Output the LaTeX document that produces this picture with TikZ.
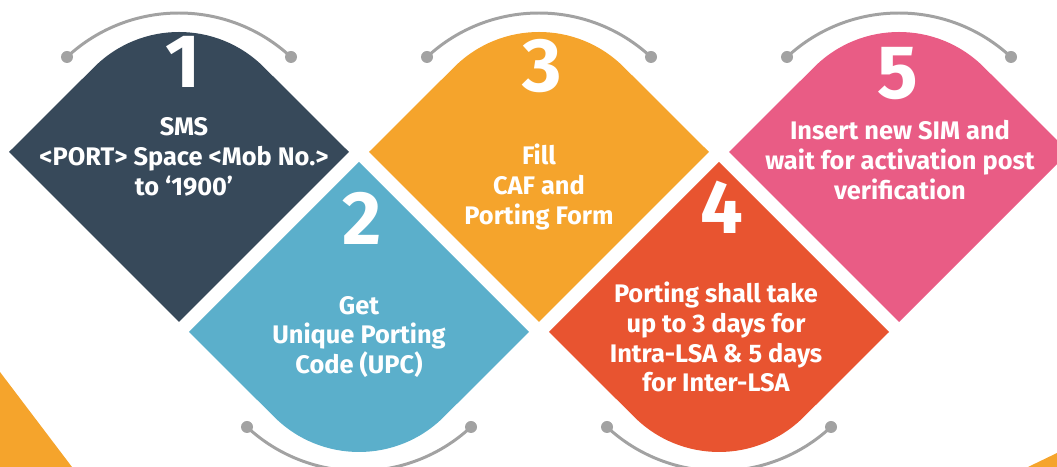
\documentclass[tikz,border=0pt]{standalone}
\usepackage{fontspec}
\setmainfont{Fira Sans}

\definecolor{slate}{RGB}{55,73,90}
\definecolor{sky}{RGB}{91,175,203}
\definecolor{amber}{RGB}{245,164,44}
\definecolor{brick}{RGB}{232,84,48}
\definecolor{rose}{RGB}{233,92,133}
\definecolor{arcgray}{RGB}{162,162,162}

\tikzset{
  stepnum/.style={text=white, inner sep=0pt, font=\fontsize{76}{76}\selectfont\bfseries},
  steptext/.style={text=white, align=center, inner sep=0pt,
    font=\fontsize{25.5}{30}\selectfont\bfseries},
  handle/.style={draw=arcgray, line width=3},
}

% one tile: diamond with its top corner rounded, plus the grey handle above it
\newcommand{\tile}[1]{%
  \path[fill=#1] (-170,0)--(-84.85,84.85) arc[start angle=135, end angle=45, radius=120]
    --(170,0)--(0,-170)--cycle;
  \draw[handle] (-112,95) arc[start angle=132.9, end angle=47.1, radius=164.5];
  \fill[arcgray] (-112,95) circle (6) (112,95) circle (6);
}

\begin{document}
\begin{tikzpicture}[x=1bp, y=1bp]
\useasboundingbox (0,0) rectangle (1057,467);
\clip (0,0) rectangle (1057,467);
% orange corners
\path[fill=amber] (0,0)--(0,95)--(72,0)--cycle;
\path[fill=amber] (1028,0)--(1057,14)--(1057,0)--cycle;
\begin{scope}[shift={(179,315)}]
\tile{slate}
\end{scope}
\begin{scope}[shift={(359,135)}, yscale=-1]
\tile{sky}
\end{scope}
\begin{scope}[shift={(539,315)}]
\tile{amber}
\end{scope}
\begin{scope}[shift={(719,135)}, yscale=-1]
\tile{brick}
\end{scope}
\begin{scope}[shift={(899,315)}]
\tile{rose}
\end{scope}
\node[stepnum] (num1) at (183,405.5) {1};
\node[stepnum] (num2) at (362,249) {2};
\node[stepnum] (num3) at (542,400.5) {3};
\node[stepnum] (num4) at (722,260) {4};
\node[stepnum] (num5) at (898,393.5) {5};
\node[steptext] (txt1) at (184,310) {SMS\\<PORT> Space <Mob No.>\\to ‘1900’};
\node[steptext] (txt2) at (359,130) {Get\\Unique Porting\\Code (UPC)};
\node[steptext] (txt3) at (539,280) {Fill\\CAF and\\Porting Form};
\node[steptext] (txt4) at (716,130) {Porting shall take\\up to 3 days for\\Intra-LSA \& 5 days\\for Inter-LSA};
\node[steptext] (txt5) at (900,307) {Insert new SIM and\\wait for activation post\\verification};
\end{tikzpicture}
\end{document}
